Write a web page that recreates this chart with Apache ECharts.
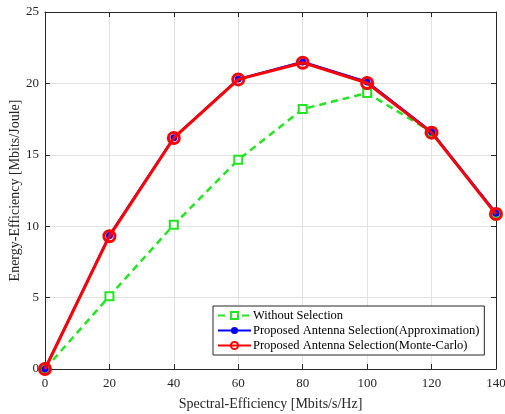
<!DOCTYPE html>
<html>
<head>
<meta charset="utf-8">
<script src="https://cdn.jsdelivr.net/npm/echarts@6/dist/echarts.min.js"></script>
<style>
html, body { margin: 0; padding: 0; background: #fff; }
#chart { width: 505px; height: 414px; }
</style>
</head>
<body>
<div id="chart"></div>
<script>
var xValues = [0, 20, 40, 60, 80, 100, 120, 140];
var withoutSel = [0, 5.1, 10.1, 14.65, 18.2, 19.33, 16.6, 10.9];
var approxSel = [0, 9.35, 16.2, 20.3, 21.5, 20.1, 16.6, 10.9];
var monteSel = [0, 9.3, 16.18, 20.28, 21.45, 20.03, 16.55, 10.85];
var seriesNames = [
    "Without Selection",
    "Proposed Antenna Selection(Approximation)",
    "Proposed Antenna Selection(Monte-Carlo)"
];

function pairs(ys) {
    return xValues.map(function(x, i) { return [x, ys[i]]; });
}

var font = "Liberation Serif";
var chart = echarts.init(document.getElementById("chart"));

var boxAxis = {
    axisLine: { show: true, onZero: false, lineStyle: { color: "#262626", width: 1 } },
    axisTick: { show: true, inside: true, length: 5, lineStyle: { color: "#262626" } },
    axisLabel: { show: false },
    splitLine: { show: false }
};

chart.setOption({
    animation: false,
    textStyle: { fontFamily: font },
    grid: { left: 45, right: 9, top: 12, bottom: 45, containLabel: false, outerBoundsMode: "none" },
    xAxis: [{
        type: "value", min: 0, max: 140, interval: 20,
        name: "Spectral-Efficiency [Mbits/s/Hz]",
        nameLocation: "middle", nameGap: 28, nameMoveOverlap: false,
        nameTextStyle: { fontFamily: font, fontSize: 14, color: "#262626" },
        axisLine: { onZero: false, lineStyle: { color: "#262626" } },
        axisTick: { inside: true, length: 5, lineStyle: { color: "#262626" } },
        axisLabel: { fontFamily: font, fontSize: 13, color: "#262626", margin: 8 },
        splitLine: { show: true, lineStyle: { color: "#e3e3e3", width: 1 } }
    }, Object.assign({ type: "value", min: 0, max: 140, interval: 20, position: "top" }, boxAxis)],
    yAxis: [{
        type: "value", min: 0, max: 25, interval: 5,
        name: "Energy-Efficiency [Mbits/Joule]",
        nameLocation: "middle", nameGap: 23, nameRotate: 90, nameMoveOverlap: false,
        nameTextStyle: { fontFamily: font, fontSize: 14, color: "#262626" },
        axisLine: { show: true, onZero: false, lineStyle: { color: "#262626" } },
        axisTick: { show: true, inside: true, length: 5, lineStyle: { color: "#262626" } },
        axisLabel: { fontFamily: font, fontSize: 13, color: "#262626", margin: 6 },
        splitLine: { show: true, lineStyle: { color: "#e3e3e3", width: 1 } }
    }, Object.assign({ type: "value", min: 0, max: 25, interval: 5, position: "right" }, boxAxis)],
    legend: {
        orient: "vertical",
        left: 213, top: 306,
        padding: [3, 5, 3, 4],
        itemGap: 2,
        itemWidth: 33, itemHeight: 9,
        backgroundColor: "#fff",
        borderColor: "#262626", borderWidth: 1,
        textStyle: { fontFamily: font, fontSize: 12.5, lineHeight: 13, color: "#000", padding: [0, 0, 0, -3] },
        data: seriesNames
    },
    series: [{
        name: seriesNames[0],
        type: "line",
        data: pairs(withoutSel),
        symbol: "emptyRect", symbolSize: 8,
        lineStyle: { color: "#1fe61f", width: 2.5, type: [7, 5] },
        itemStyle: { color: "#1fe61f", borderColor: "#1fe61f", borderWidth: 2 },
        z: 2
    }, {
        name: seriesNames[1],
        type: "line",
        data: pairs(approxSel),
        symbol: "circle", symbolSize: 7,
        lineStyle: { color: "#0000ff", width: 2.5 },
        itemStyle: { color: "#0000ff" },
        z: 3
    }, {
        name: seriesNames[2],
        type: "line",
        data: pairs(monteSel),
        symbol: "circle", symbolSize: 11,
        lineStyle: { color: "#ff0000", width: 3 },
        itemStyle: { color: "rgba(255,0,0,0)", borderColor: "#ff0000", borderWidth: 3 },
        z: 4
    }]
});
</script>
</body>
</html>
